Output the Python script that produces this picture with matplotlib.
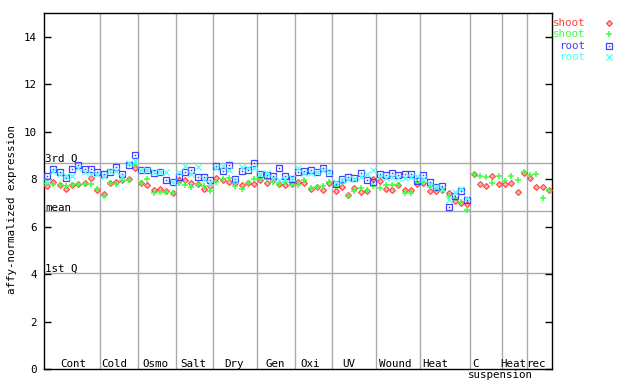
import matplotlib
matplotlib.use('Agg')
import matplotlib.pyplot as plt
from matplotlib.lines import Line2D
import numpy as np

plt.rcParams['font.family'] = ['DejaVu Sans Mono']

# ---- data ----
group_names = ["Cont", "Cold", "Osmo", "Salt", "Dry", "Gen", "Oxi", "UV", "Wound", "Heat", "C", "Heat", "rec"]
group_sizes = [9, 6, 6, 6, 7, 6, 6, 7, 7, 8, 5, 4, 4]
label_offsets = [0.24, -0.72, -0.3, -0.24, -0.25, -0.17, -0.64, -0.87, -0.43, -1.58, -1.62, -0.14, -0.55]

shoot_rep1 = [7.70, 7.90, 7.75, 7.60, 7.75, 7.80, 7.85, 8.05, 7.55,
              7.38, 7.85, 7.90, 7.95, 8.00, 8.45,
              7.85, 7.75, 7.55, 7.60, 7.50, 7.40,
              7.95, 7.95, 7.85, 7.80, 7.60, 7.70,
              8.05, 7.95, 7.90, 7.85, 7.75, 7.85, 7.80,
              7.95, 7.85, 7.95, 7.80, 7.75, 7.80,
              7.90, 7.83, 7.60, 7.65, 7.55, 7.85,
              7.52, 7.66, 7.35, 7.62, 7.45, 7.50, 8.00,
              7.92, 7.60, 7.55, 7.75, 7.55, 7.55, 7.78,
              7.85, 7.50, 7.52, 7.55, 7.42, 7.08, 7.00, 6.95,
              8.20, 7.79, 7.69, 8.12, 7.79,
              7.78, 7.82, 7.47, 8.27,
              8.04, 7.66, 7.66, 7.55]
shoot_rep2 = [7.85, 7.80, 7.75, 7.70, 7.75, 7.80, 7.80, 7.80, 7.60,
              7.30, 7.85, 7.80, 7.95, 7.95, 8.60,
              7.85, 8.00, 7.40, 7.45, 7.45, 7.40,
              7.85, 7.75, 7.65, 7.80, 7.70, 7.50,
              7.90, 8.00, 8.05, 7.70, 7.60, 7.85, 8.00,
              8.02, 8.00, 7.88, 7.80, 7.90, 7.75,
              7.75, 7.95, 7.62, 7.65, 7.70, 7.90,
              7.70, 7.83, 7.30, 7.48, 7.62, 7.55, 7.72,
              7.62, 7.76, 7.76, 7.76, 7.42, 7.42, 7.90,
              7.90, 7.68, 7.58, 7.55, 7.30, 7.20, 7.03, 6.71,
              8.22, 8.13, 8.10, 7.85, 8.12,
              7.93, 8.13, 7.97, 8.30,
              8.18, 8.22, 7.22, 7.48]
root_rep1 = [8.14, 8.42, 8.32, 8.04, 8.42, 8.60, 8.42, 8.42, 8.32,
             8.22, 8.30, 8.51, 8.21, 8.60, 9.03,
             8.38, 8.38, 8.25, 8.30, 7.97, 7.86,
             8.09, 8.30, 8.40, 8.09, 8.08, 7.97,
             8.55, 8.35, 8.60, 8.00, 8.35, 8.40, 8.68,
             8.20, 8.18, 8.12, 8.47, 8.14, 8.00,
             8.30, 8.33, 8.37, 8.28, 8.47, 8.25,
             7.80, 8.00, 8.08, 8.04, 8.25, 7.97, 7.88,
             8.21, 8.19, 8.26, 8.19, 8.20, 8.20, 7.92,
             8.18, 7.90, 7.66, 7.73, 6.82, 7.30, 7.51, 7.14]
root_rep2 = [7.88, 8.35, 8.20, 8.15, 8.15, 8.45, 8.30, 8.20, 8.20,
             8.15, 8.35, 8.35, 8.10, 8.70, 8.75,
             8.40, 8.40, 8.30, 8.30, 8.30, 7.90,
             8.30, 8.55, 8.20, 8.50, 8.00, 7.85,
             8.45, 8.55, 8.40, 7.95, 8.50, 8.45, 8.45,
             8.22, 8.25, 8.05, 7.95, 8.00, 8.05,
             8.45, 8.25, 8.25, 8.30, 8.40, 8.30,
             7.90, 7.95, 8.00, 8.00, 8.10, 8.23, 8.37,
             8.15, 8.05, 8.10, 8.05, 8.05, 8.10, 8.15,
             8.00, 7.80, 7.65, 7.60, 7.10, 7.45, 7.58, 7.20]

q3_value = 8.68
mean_value = 6.64
q1_value = 4.06
y_ticks = [0, 2, 4, 6, 8, 10, 12, 14]

RED, GREEN, BLUE, CYAN = '#ff4040', '#40ff40', '#4040ff', '#50ffff'
GRAY = '#aaaaaa'
FS = 7.8

STYLE = {
    'red': dict(marker='D', ms=3.0, mfc='#ffb0b0', mec=RED, mew=0.8, ls='none'),
    'green': dict(marker='+', ms=4.6, mew=1.1, color=GREEN, ls='none'),
    'blue': dict(marker='s', ms=4.2, mfc='none', mec=BLUE, mew=0.9, ls='none'),
    'bluedot': dict(marker='s', ms=1.1, color=BLUE, mew=0, ls='none'),
    'cyan': dict(marker='x', ms=3.8, mew=0.9, color=CYAN, ls='none'),
}

fig = plt.figure(figsize=(6.4, 3.84), dpi=100)
ax = fig.add_axes([44 / 640, 15 / 384, 508 / 640, 356 / 384])
n_total = sum(group_sizes)
ax.set_xlim(0, n_total)
ax.set_ylim(0, 15)

bounds = np.cumsum(group_sizes)
for b in bounds[:-1]:
    ax.axvline(b, color=GRAY, lw=1, zorder=1)
for v in (q3_value, mean_value, q1_value):
    ax.axhline(v, color=GRAY, lw=1, zorder=1)

ax.text(0.15, q3_value + 0.05, "3rd Q", fontsize=FS, va='baseline', ha='left')
ax.text(0.15, mean_value + 0.02, "mean", fontsize=FS, va='baseline', ha='left')
ax.text(0.15, q1_value + 0.05, "1st Q", fontsize=FS, va='baseline', ha='left')

xs_shoot = np.arange(len(shoot_rep1)) + 0.5
xs_root = np.arange(len(root_rep1)) + 0.5

ax.plot(xs_shoot, shoot_rep1, zorder=3, **STYLE['red'])
ax.plot(xs_shoot, shoot_rep2, zorder=3, **STYLE['green'])
ax.plot(xs_root, root_rep1, zorder=4, **STYLE['blue'])
ax.plot(xs_root, root_rep1, zorder=4, **STYLE['bluedot'])
ax.plot(xs_root, root_rep2, zorder=5, **STYLE['cyan'])

starts = np.concatenate([[0], bounds[:-1]])
centers = (starts + bounds) / 2
xtr = ax.get_xaxis_transform()
for name, c, off in zip(group_names, centers, label_offsets):
    ax.text(c + off, 0.014, name, fontsize=FS, ha='center', va='center', transform=xtr)
ax.text(centers[10] + 2.2, -0.017, "suspension", fontsize=FS, ha='center', va='center',
        transform=xtr, clip_on=False)

ax.set_xticks([])
ax.set_yticks(y_ticks)
ax.set_yticklabels([str(t) for t in y_ticks])
ax.tick_params(axis='y', direction='in', length=5, width=1, left=True, right=True,
               labelsize=FS, pad=5)
for s in ax.spines.values():
    s.set_linewidth(1)
    s.set_color('black')

fig.text(12 / 640, 1 - 210 / 384, "affy-normalized expression", rotation=90,
         fontsize=FS, ha='center', va='center')

legend_items = [("shoot", RED, ['red']), ("shoot", GREEN, ['green']),
                ("root", BLUE, ['blue', 'bluedot']), ("root", CYAN, ['cyan'])]
legend_y = [23.3, 34.3, 45.7, 56.7]
mx = 609 / 640
for (lab, col, keys), yy in zip(legend_items, legend_y):
    fy = 1 - yy / 384
    fig.text(585 / 640, fy, lab, color=col, fontsize=FS, ha='right', va='center')
    for k in keys:
        fig.lines.append(Line2D([mx], [fy], transform=fig.transFigure, **STYLE[k]))

fig.savefig('out.png', dpi=100)
